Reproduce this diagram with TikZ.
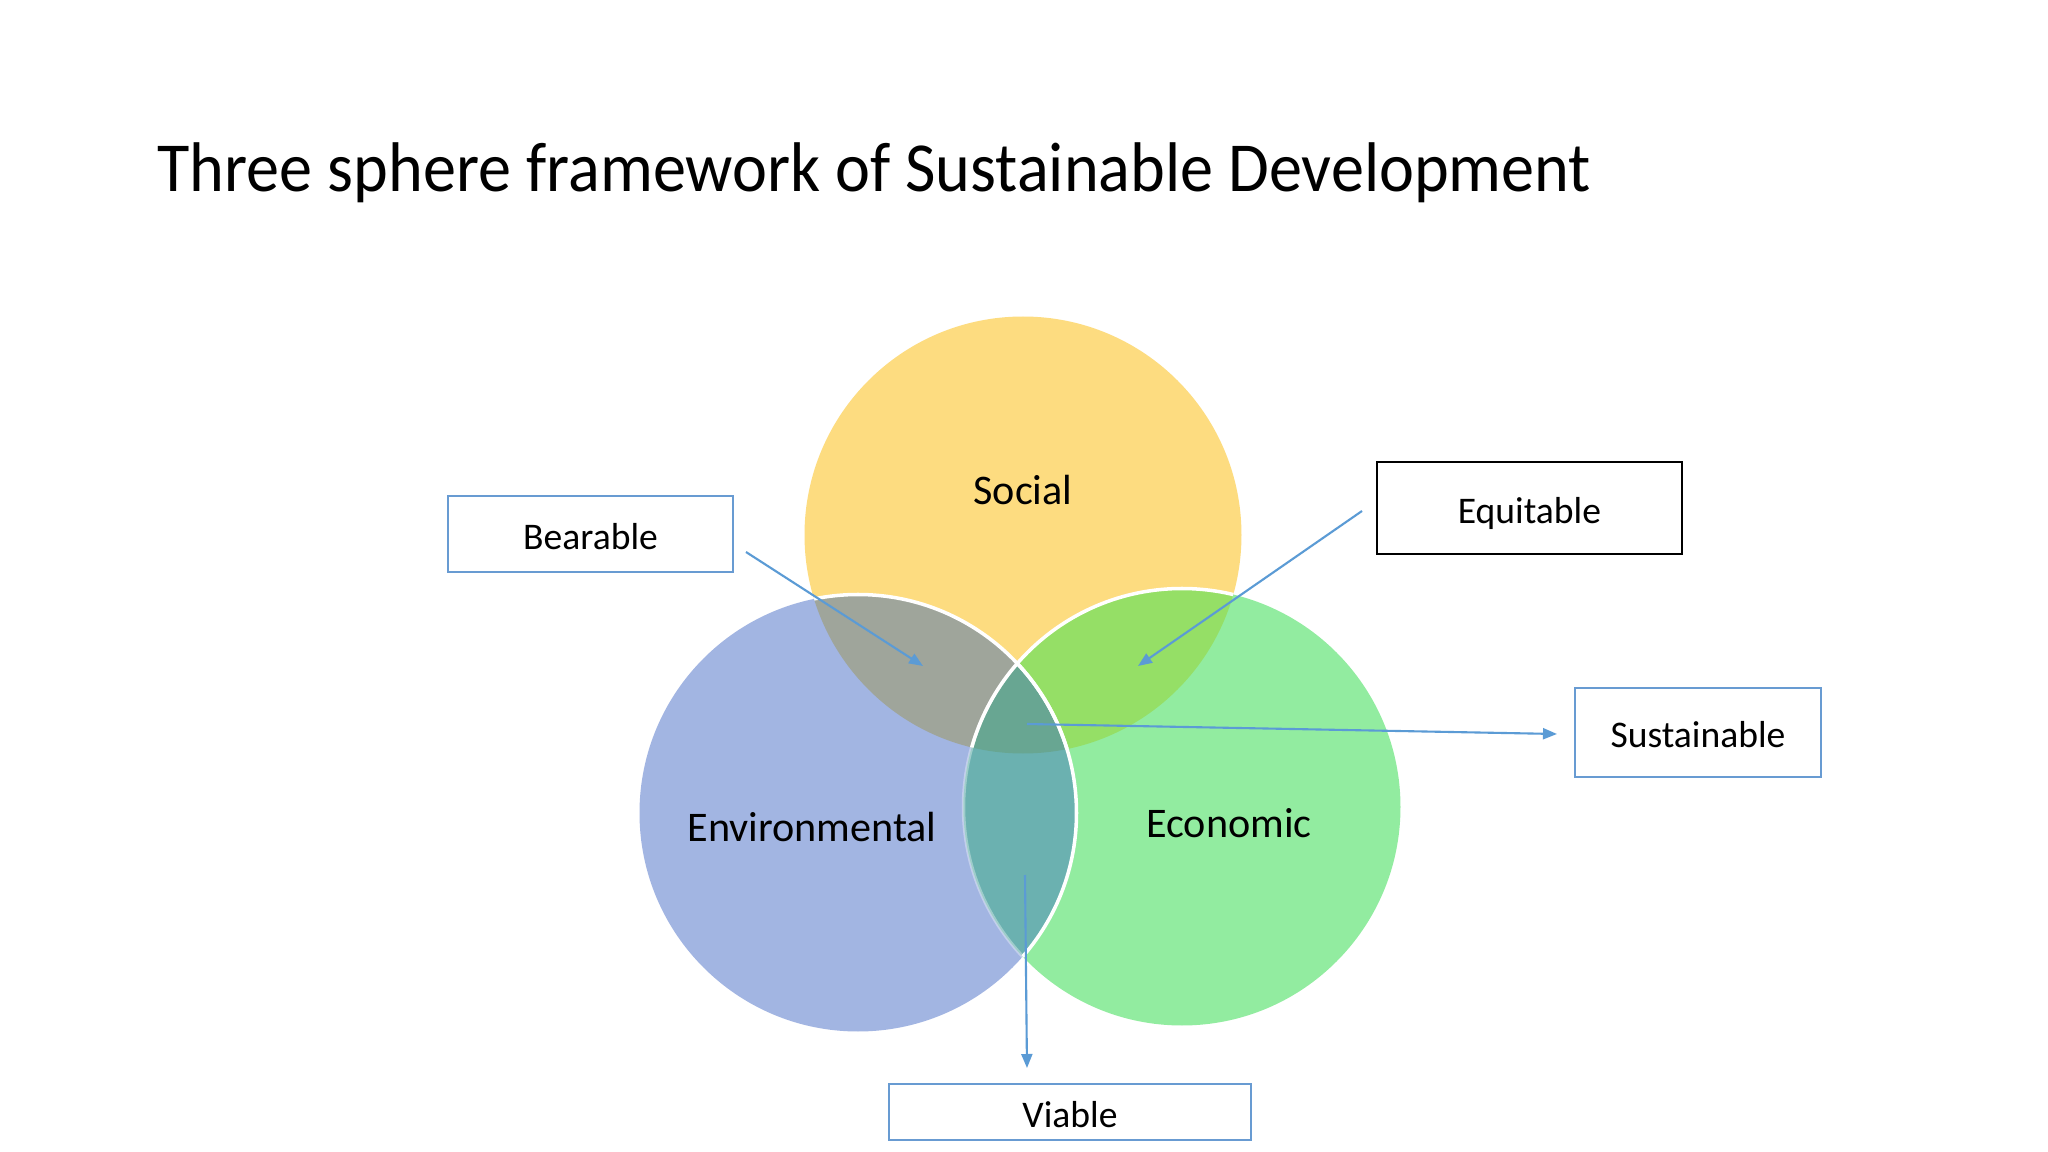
\documentclass[tikz,border=0pt]{standalone}
\usepackage{graphicx}
\usepackage{fontspec}
\setmainfont{Carlito}
\usetikzlibrary{arrows.meta}
\definecolor{socC}{RGB}{253,220,128}
\definecolor{envC}{RGB}{162,181,226}
\definecolor{ecoC}{RGB}{146,236,160}
\definecolor{seC}{RGB}{159,165,155}
\definecolor{scC}{RGB}{149,223,102}
\definecolor{ecC}{RGB}{107,177,176}
\definecolor{allC}{RGB}{104,166,146}
\definecolor{boxblue}{RGB}{104,155,210}
\definecolor{arrowblue}{RGB}{91,155,213}
\begin{document}
\begin{tikzpicture}[x=1cm,y=1cm,
  lbl/.style={font=\fontsize{12}{14}\selectfont, inner sep=0pt},
  boxnode/.style={draw=boxblue, line width=0.6pt, font=\fontsize{10.7}{13}\selectfont, inner sep=0pt, text height=0.86em, text depth=0pt},
  conn/.style={draw=arrowblue, line width=0.6pt, -{Triangle[length=0.14cm,width=0.11cm]}},
  rim/.style={draw=white, line width=1pt}]
\useasboundingbox (0,0) rectangle (20.48,-11.52);
\fill[white] (0,0) rectangle (20.48,-11.52);
% title
\node[anchor=base west, inner sep=0pt, font=\fontsize{20}{24}\selectfont] (title) at (1.57,-1.917) {\scalebox{0.942}[1]{Three sphere framework of Sustainable Development}};
% circles
\coordinate (cS) at (10.23,-5.35);
\coordinate (cV) at (8.58,-8.13);
\coordinate (cE) at (11.82,-8.07);
\def\R{2.185}
\fill[socC] (cS) circle (\R);
\fill[envC] (cV) circle (\R);
\fill[ecoC] (cE) circle (\R);
\begin{scope}
  \clip (cS) circle (\R);
  \fill[seC] (cV) circle (\R);
  \fill[scC] (cE) circle (\R);
\end{scope}
\begin{scope}
  \clip (cV) circle (\R);
  \fill[ecC] (cE) circle (\R);
  \clip (cS) circle (\R);
  \fill[allC] (cE) circle (\R);
\end{scope}
\begin{scope}
  \clip (cS) circle (\R);
  \draw[rim] (cV) circle (\R);
  \draw[rim] (cE) circle (\R);
\end{scope}
\begin{scope}
  \clip (cE) circle (\R);
  \draw[rim] (cV) circle (\R);
\end{scope}
\begin{scope}
  \clip (cV) circle (\R);
  \draw[draw=white, draw opacity=0.35, line width=1pt] (cE) circle (\R);
\end{scope}
% circle labels
\node[lbl] (social) at (10.23,-4.90) {Social};
\node[lbl] (envir) at (8.12,-8.27) {Environmental};
\node[lbl] (econ) at (12.29,-8.23) {Economic};
% boxes
\node[boxnode, minimum width=2.85cm, minimum height=0.76cm] (bear) at (5.905,-5.34) {Bearable};
\node[boxnode, draw=black, minimum width=3.05cm, minimum height=0.92cm] (equi) at (15.295,-5.08) {Equitable};
\node[boxnode, minimum width=2.46cm, minimum height=0.89cm] (sust) at (16.98,-7.325) {Sustainable};
\node[boxnode, minimum width=3.62cm, minimum height=0.56cm] (viab) at (10.70,-11.12) {Viable};
% connector ends
\coordinate (bearS) at (7.46,-5.52);
\coordinate (bearT) at (9.23,-6.66);
\coordinate (equiS) at (13.62,-5.11);
\coordinate (equiT) at (11.38,-6.66);
\coordinate (sustS) at (10.27,-7.24);
\coordinate (sustT) at (15.57,-7.34);
\coordinate (viabS) at (10.25,-8.75);
\coordinate (viabT) at (10.27,-10.68);
\draw[conn] (bearS) -- (bearT);
\draw[conn] (equiS) -- (equiT);
\draw[conn] (sustS) -- (sustT);
\draw[conn] (viabS) -- (viabT);
\end{tikzpicture}
\end{document}
